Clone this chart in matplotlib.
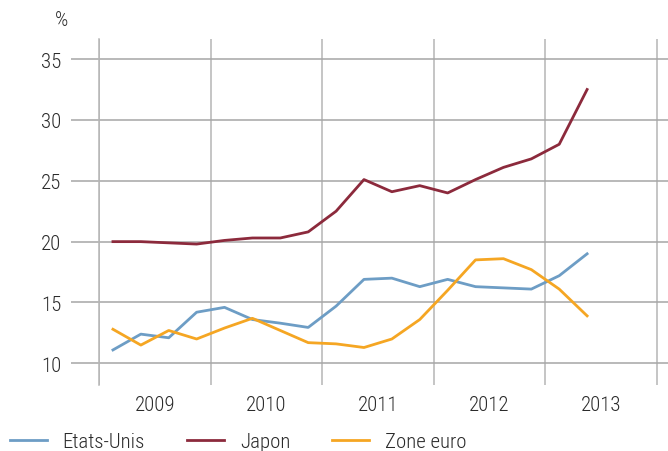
import numpy as np
import matplotlib
matplotlib.use("Agg")
import matplotlib.pyplot as plt
from matplotlib.ticker import FixedLocator, NullFormatter

# quarterly data, 2009Q1 - 2013Q2
years = [2009, 2010, 2011, 2012, 2013]
n_quarters = 18
etats_unis = [11.1, 12.4, 12.1, 14.2, 14.6, 13.6, 13.3, 12.95, 14.7,
              16.9, 17.0, 16.3, 16.9, 16.3, 16.2, 16.1, 17.2, 19.0]
japon = [20.0, 20.0, 19.9, 19.8, 20.1, 20.3, 20.3, 20.8, 22.5,
         25.1, 24.1, 24.6, 24.0, 25.1, 26.1, 26.8, 28.0, 32.5]
zone_euro = [12.8, 11.5, 12.7, 12.0, 12.9, 13.7, 12.7, 11.7, 11.6,
             11.3, 12.0, 13.6, 16.0, 18.5, 18.6, 17.7, 16.1, 13.9]
series_names = ["Etats-Unis", "Japon", "Zone euro"]
colors = ["#6d9dc5", "#8c2a3c", "#f5a623"]

plt.rcParams['font.family'] = ['Roboto Condensed', 'DejaVu Sans']
plt.rcParams['font.weight'] = 'light'
txt_c = "#2b2b2b"
fs = 15

x = years[0] + (np.arange(n_quarters) + 0.5) / 4

fig = plt.figure(figsize=(6.68, 4.52), dpi=100)
ax = fig.add_axes([99 / 668, 66 / 452, 569 / 668, 346 / 452])

for vals, name, c in zip([etats_unis, japon, zone_euro], series_names, colors):
    ax.plot(x, vals, color=c, lw=2.0, label=name)

ax.set_xlim(2009, 2014.1)
ax.set_ylim(8.22, 36.65)

grid_c = "#a6a6a6"
ax.set_yticks([10, 15, 20, 25, 30, 35])
ax.tick_params(axis='y', length=20, width=1.1, color=grid_c, labelsize=fs,
               labelcolor=txt_c, pad=7)
ax.grid(axis='y', color=grid_c, lw=1.1)

ax.xaxis.set_major_locator(FixedLocator(years + [2014]))
ax.xaxis.set_major_formatter(NullFormatter())
ax.xaxis.set_minor_locator(FixedLocator([y + 0.5 for y in years]))
ax.set_xticklabels([str(y) for y in years], minor=True)
ax.tick_params(axis='x', which='major', length=0)
ax.tick_params(axis='x', which='minor', length=0, labelsize=fs,
               labelcolor=txt_c, pad=7)
ax.grid(axis='x', which='major', color="#b5b5b5", lw=1.1)

for s in ['top', 'right', 'bottom']:
    ax.spines[s].set_visible(False)
ax.spines['left'].set_color("#b5b5b5")
ax.spines['left'].set_linewidth(1.1)
ax.set_axisbelow(True)

fig.text(62 / 668, 1 - 21 / 452, "%", fontsize=fs, color=txt_c,
         ha='center', va='center')

leg = fig.legend(loc='center left', bbox_to_anchor=(0.005, 9 / 452), ncol=3,
                 frameon=False, fontsize=fs, handlelength=1.8,
                 handletextpad=0.75, columnspacing=2.0, borderaxespad=0,
                 borderpad=0.3)
for t in leg.get_texts():
    t.set_color(txt_c)

fig.savefig("out.png", dpi=100)
